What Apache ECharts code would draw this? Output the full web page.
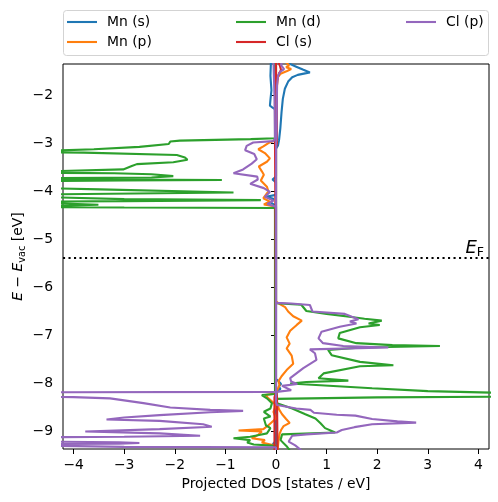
<!DOCTYPE html>
<html><head><meta charset="utf-8">
<script src="https://cdn.jsdelivr.net/npm/echarts@6/dist/echarts.min.js"></script>
<style>html,body{margin:0;padding:0;background:#fff}#c{width:498px;height:502px}</style>
</head><body><div id="c"></div>
<script>
// ---- data: each curve is a list of [energy (eV), PDOS (states/eV)] pairs; spin-down drawn negative ----
const mnS_up = [[-1.30,0.22],[-1.35,0.27],[-1.41,0.40],[-1.47,0.53],[-1.53,0.67],[-1.555,0.55],[-1.58,0.43],[-1.63,0.32],[-1.72,0.24],[-1.87,0.175],[-2.08,0.135],[-2.35,0.11],[-2.70,0.085],[-2.94,0.06],[-3.05,0.04],[-3.12,0.0],[-7.92,0],[-7.96,0.05],[-8.02,0.1],[-8.08,0.05],[-8.12,0.09],[-8.17,0.02],[-8.21,0],[-9.40,0]];
const mnS_dn = [[-1.30,-0.1],[-1.6,-0.11],[-1.9,-0.09],[-2.1,-0.11],[-2.22,-0.12],[-2.27,-0.06],[-2.31,0],[-3.70,0],[-3.76,-0.07],[-3.82,0],[-4.08,0],[-4.12,-0.2],[-4.16,-0.05],[-4.25,-0.1],[-4.3,0],[-9.2,0],[-9.27,-0.06],[-9.33,-0.02],[-9.40,0]];
const mnP_up = [[-1.30,0.18],[-1.38,0.26],[-1.42,0.2],[-1.46,0.3],[-1.50,0.22],[-1.55,0.1],[-1.62,0.04],[-1.8,0.02],[-3.0,0.01],[-3.05,0],[-6.30,0],[-6.34,0.05],[-6.42,0.18],[-6.51,0.24],[-6.61,0.34],[-6.70,0.51],[-6.74,0.54],[-6.79,0.41],[-6.91,0.28],[-7.05,0.21],[-7.18,0.27],[-7.28,0.21],[-7.43,0.31],[-7.60,0.34],[-7.73,0.21],[-7.86,0.11],[-7.96,0.05],[-8.05,0.07],[-8.15,0.02],[-8.3,0],[-8.45,0.03],[-8.55,0.06],[-8.65,0.12],[-8.75,0.2],[-8.83,0.27],[-8.90,0.15],[-8.98,0.1],[-9.06,0.07],[-9.2,0.05],[-9.40,0.03]];
const mnP_dn = [[-1.30,0],[-2.93,0],[-2.96,-0.05],[-3.0,-0.15],[-3.07,-0.25],[-3.13,-0.35],[-3.21,-0.22],[-3.32,-0.12],[-3.39,-0.18],[-3.49,-0.34],[-3.59,-0.28],[-3.66,-0.24],[-3.78,-0.30],[-3.91,-0.18],[-4.01,-0.15],[-4.15,-0.25],[-4.22,-0.12],[-4.28,-0.24],[-4.32,-0.02],[-4.36,0],[-8.22,0],[-8.25,-0.21],[-8.32,-0.15],[-8.46,0],[-8.60,-0.05],[-8.74,0],[-8.88,-0.15],[-8.96,-0.25],[-8.99,-0.74],[-9.01,-0.28],[-9.08,-0.35],[-9.15,-0.48],[-9.19,-0.22],[-9.24,-0.28],[-9.31,0],[-9.40,0]];
const mnD_up = [[-1.30,0],[-6.34,0],[-6.37,0.5],[-6.50,0.6],[-6.56,1.0],[-6.62,1.45],[-6.66,1.75],[-6.70,2.09],[-6.76,1.83],[-6.79,2.05],[-6.84,1.66],[-6.96,1.26],[-7.07,1.23],[-7.17,1.59],[-7.21,2.3],[-7.23,3.24],[-7.26,1.7],[-7.31,1.03],[-7.42,1.1],[-7.56,1.66],[-7.63,2.32],[-7.65,1.66],[-7.80,0.94],[-7.90,0.84],[-7.95,1.43],[-7.98,0.6],[-8.01,0.28],[-8.11,1.9],[-8.17,3.0],[-8.22,5],[-8.28,5],[-8.30,2],[-8.33,0],[-8.42,0.02],[-8.53,0.32],[-8.65,0.58],[-8.74,0.78],[-8.84,0.88],[-8.94,0.97],[-9.03,1.17],[-9.07,0.12],[-9.19,0.09],[-9.33,0.22],[-9.40,0.27]];
const mnD_dn = [[-1.30,-0.02],[-2.90,-0.02],[-2.92,-0.5],[-2.95,-1.9],[-2.97,-2.09],[-3.02,-2.12],[-3.08,-2.7],[-3.13,-3.6],[-3.16,-4.4],[-3.18,-6],[-3.20,-3.8],[-3.25,-1.96],[-3.30,-1.8],[-3.35,-1.75],[-3.40,-2.03],[-3.44,-2.75],[-3.48,-2.85],[-3.55,-3.02],[-3.59,-4.5],[-3.61,-6],[-3.63,-3.2],[-3.65,-2.46],[-3.69,-2.03],[-3.72,-2.46],[-3.74,-6],[-3.76,-3],[-3.77,-1.07],[-3.78,-3],[-3.80,-6],[-3.91,-6],[-3.965,-3.48],[-4.03,-0.84],[-4.07,-4.5],[-4.09,-6],[-4.17,-3],[-4.19,-0.3],[-4.21,-3],[-4.23,-6],[-4.26,-4.2],[-4.285,-3.51],[-4.31,-4.3],[-4.33,-6],[-4.345,-3],[-4.355,-0.02],[-8.23,-0.02],[-8.25,-0.28],[-8.32,-0.18],[-8.42,-0.08],[-8.53,-0.11],[-8.60,-0.24],[-8.70,-0.11],[-8.74,-0.24],[-8.88,-0.2],[-8.94,-0.11],[-9.05,-0.18],[-9.08,-0.31],[-9.12,-0.51],[-9.15,-0.84],[-9.19,-0.51],[-9.24,-0.57],[-9.28,-0.44],[-9.31,0],[-9.40,0]];
const clS_up = [[-1.30,0.04],[-1.40,0.08],[-1.48,0.1],[-1.55,0.06],[-1.7,0.02],[-3.0,0.015],[-3.1,0],[-8.2,0],[-8.3,0.02],[-9.40,0.03]];
const clS_dn = [[-1.30,0],[-2.9,0],[-3.0,-0.02],[-4.4,-0.01],[-8.2,0],[-8.3,-0.03],[-9.40,-0.03]];
const clP_up = [[-1.30,0.12],[-1.38,0.1],[-1.46,0.16],[-1.52,0.08],[-1.6,0.04],[-1.8,0.02],[-2.9,0.01],[-3.0,0],[-6.33,0],[-6.345,0.3],[-6.375,0.67],[-6.51,0.72],[-6.56,1.36],[-6.62,1.5],[-6.67,1.63],[-6.72,1.46],[-6.76,1.59],[-6.83,1.26],[-6.93,0.9],[-7.07,0.84],[-7.17,0.93],[-7.23,1.33],[-7.26,2.22],[-7.30,0.67],[-7.38,0.77],[-7.52,0.80],[-7.69,0.54],[-7.90,0.28],[-7.97,0.3],[-8.02,0.42],[-8.06,0.12],[-8.10,0.1],[-8.15,0.3],[-8.18,0.05],[-8.19,0],[-8.40,0],[-8.46,0.02],[-8.53,0.4],[-8.56,0.68],[-8.62,0.75],[-8.66,1.2],[-8.68,1.57],[-8.75,1.9],[-8.80,2.4],[-8.825,2.77],[-8.86,1.9],[-8.92,1.55],[-8.98,1.30],[-9.03,1.2],[-9.07,0.6],[-9.10,0.32],[-9.22,0.25],[-9.30,0.38],[-9.40,0.5]];
const clP_dn = [[-1.30,-0.05],[-2.0,-0.03],[-2.9,-0.02],[-2.96,-0.05],[-2.99,-0.45],[-3.06,-0.58],[-3.15,-0.61],[-3.23,-0.43],[-3.34,-0.38],[-3.43,-0.48],[-3.55,-0.65],[-3.63,-0.84],[-3.70,-0.37],[-3.76,-0.36],[-3.85,-0.51],[-3.94,-0.24],[-4.02,-0.12],[-4.12,-0.22],[-4.20,-0.05],[-4.27,-0.17],[-4.33,0],[-8.185,0],[-8.195,-6],[-8.28,-6],[-8.295,-4],[-8.32,-3.28],[-8.42,-2.62],[-8.51,-2.09],[-8.56,-1.30],[-8.58,-0.65],[-8.61,-1.3],[-8.67,-2.3],[-8.72,-3.0],[-8.76,-3.35],[-8.79,-2.3],[-8.86,-1.44],[-8.91,-1.27],[-8.96,-2.3],[-9.01,-3.77],[-9.05,-2.3],[-9.10,-1.5],[-9.12,-3],[-9.14,-6],[-9.21,-6],[-9.235,-3.1],[-9.25,-2.7],[-9.265,-3.1],[-9.28,-6],[-9.32,-6],[-9.33,-3],[-9.34,0],[-9.40,0]];

const names = ['Mn (s)','Mn (p)','Mn (d)','Cl (s)','Cl (p)'];
const xTicks = [-4,-3,-2,-1,0,1,2,3,4];
const yTicks = [-9,-8,-7,-6,-5,-4,-3,-2];
const xRange = [-4.21, 4.21];
const yRange = [-9.375, -1.354];
const eFermi = -5.39;

// ---- styling ----
const colors = ['#1f77b4','#ff7f0e','#2ca02c','#d62728','#9467bd'];
const curves = [[mnS_up,mnS_dn],[mnP_up,mnP_dn],[mnD_up,mnD_dn],[clS_up,clS_dn],[clP_up,clP_dn]];
const FONT = 'DejaVu Sans';
const FS = 13.9;
const fmt = v => String(v).replace('-', '\u2212');

const series = [];
curves.forEach((pair, i) => pair.forEach(c => series.push({
  type: 'line', name: names[i], data: c.map(p => [p[1], p[0]]),
  showSymbol: false, symbol: 'none', clip: true,
  lineStyle: { width: 2.1, color: colors[i] }, itemStyle: { color: colors[i] }
})));
series.push({
  type: 'line', name: 'EF', data: [], silent: true,
  markLine: {
    symbol: 'none', silent: true, animation: false,
    lineStyle: { type: [2.1, 3.4], color: '#000', width: 2.1 },
    data: [{ yAxis: eFermi }],
    label: {
      show: true, position: 'insideEndTop', distance: [5, -1],
      formatter: '{e|E}{f|F}',
      rich: {
        e: { fontFamily: FONT, fontStyle: 'italic', fontSize: 18, color: '#000', lineHeight: 20, verticalAlign: 'middle' },
        f: { fontFamily: FONT, fontSize: 12.6, color: '#000', lineHeight: 20, verticalAlign: 'bottom', padding: [6,0,0,0] }
      }
    }
  }
});

const cols = [['Mn (s)','Mn (p)'],['Mn (d)','Cl (s)'],['Cl (p)']];
const colX = [67, 236, 406];
const legends = cols.map((d, k) => ({
  data: d, orient: 'vertical', left: colX[k], top: 14, padding: 0,
  itemWidth: 30, itemHeight: 2.1, icon: 'rect', itemGap: 4, selectedMode: false,
  textStyle: { fontFamily: FONT, fontSize: FS, color: '#000', lineHeight: 16, padding: [0,0,0,5] }
}));

const chart = echarts.init(document.getElementById('c'), null, { renderer: 'canvas' });
chart.setOption({
  animation: false,
  backgroundColor: '#fff',
  grid: { left: 63, right: 9, top: 64, bottom: 53, show: true, borderColor: '#000', borderWidth: 1, backgroundColor: 'transparent', containLabel: false, outerBoundsMode: 'none' },
  legend: legends,
  graphic: [{ type: 'rect', z: 0, shape: { x: 63.5, y: 10.5, width: 425, height: 45, r: 3 }, style: { fill: '#fff', stroke: '#d3d3d3', lineWidth: 1 } }],
  xAxis: {
    type: 'value', min: xRange[0], max: xRange[1],
    axisLine: { show: false }, splitLine: { show: false },
    axisTick: { show: true, customValues: xTicks, length: 5, lineStyle: { color: '#000', width: 1 } },
    axisLabel: { customValues: xTicks, formatter: fmt, fontFamily: FONT, fontSize: FS, color: '#000', margin: 9 },
    name: 'Projected DOS [states / eV]', nameLocation: 'middle', nameGap: 28, nameMoveOverlap: false,
    nameTextStyle: { fontFamily: FONT, fontSize: FS, color: '#000' }
  },
  yAxis: {
    type: 'value', min: yRange[0], max: yRange[1],
    axisLine: { show: false }, splitLine: { show: false },
    axisTick: { show: true, customValues: yTicks, length: 5, lineStyle: { color: '#000', width: 1 } },
    axisLabel: { customValues: yTicks, formatter: fmt, fontFamily: FONT, fontSize: FS, color: '#000', margin: 10 },
    name: '{i|E} \u2212 {i|E}{s|vac} [eV]', nameLocation: 'middle', nameGap: 36, nameRotate: 90, nameMoveOverlap: false,
    nameTextStyle: {
      fontFamily: FONT, fontSize: FS, color: '#000', lineHeight: 18,
      rich: {
        i: { fontFamily: FONT, fontStyle: 'italic', fontSize: FS, color: '#000', lineHeight: 18 },
        s: { fontFamily: FONT, fontSize: 9.7, color: '#000', lineHeight: 18, verticalAlign: 'bottom', padding: [5,0,0,0] }
      }
    }
  },
  series: series
});
</script></body></html>
